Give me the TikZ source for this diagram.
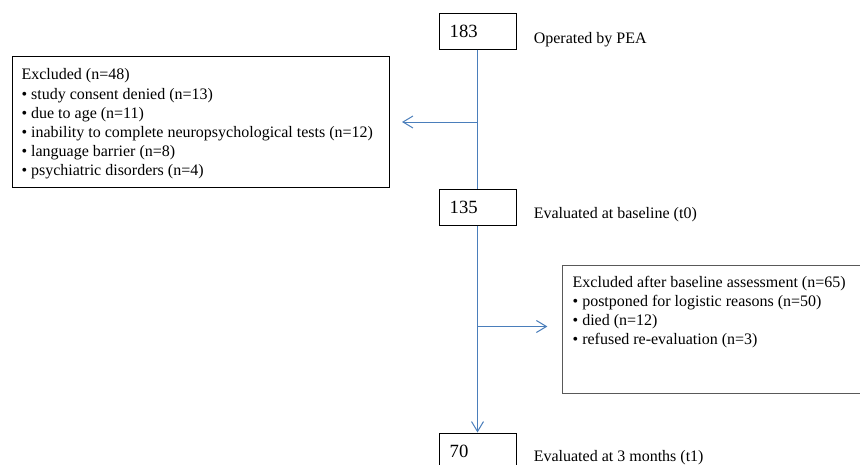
\documentclass[tikz,border=0pt]{standalone}
\usepackage{fontspec}
\setmainfont{Liberation Serif}
\usetikzlibrary{arrows.meta}
\usetikzlibrary{positioning}
\definecolor{flowblue}{RGB}{74,126,187}

\begin{document}
\begin{tikzpicture}[x=0.75pt,y=-0.75pt,
  numbox/.style={draw=black,line width=0.75pt,minimum width=57.75pt,minimum height=27pt,inner xsep=8pt,text width=41.75pt,align=left,font=\fontsize{14}{16}\selectfont},
  caption/.style={inner sep=0pt,font=\fontsize{12}{14.3}\selectfont},
  exbox/.style={draw=black,line width=0.75pt,anchor=north west,inner ysep=0pt,font=\fontsize{12}{14.3}\selectfont},
  flow/.style={draw=flowblue,line width=0.75pt},
  flowarrow/.style={flow,-{Straight Barb[length=7.5pt,width=9pt]}}]
\useasboundingbox (0,0) rectangle (860,464);
\clip (0,0) rectangle (860,464);

% numbers of patients
\node[numbox] (n183) at (477.5,31) {183};
\node[numbox] (n135) at (477.5,207) {135};
\node[numbox] (n70) at (477.5,451) {70};
\node[caption,right=12.75pt of n183,yshift=-6.5pt] (c183) {Operated by PEA};
\node[caption,right=12.75pt of n135,yshift=-5.5pt] (c135) {Evaluated at baseline (t0)};
\node[caption,right=12.75pt of n70,yshift=-4.75pt] (c70) {Evaluated at 3 months (t1)};

% exclusions
\node[exbox,inner xsep=6.75pt] (ex1) at (12,56) {\begin{minipage}[c][98.25pt][t]{269.25pt}\vspace*{9.25pt}Excluded (n=48)\\
• study consent denied (n=13)\\
• due to age (n=11)\\
\mbox{• inability to complete neuropsychological tests (n=12)}\\
• language barrier (n=8)\\
• psychiatric disorders (n=4)\end{minipage}};
\node[exbox,draw=black!65,line width=1pt,inner xsep=7.5pt] (ex2) at (562,265) {\begin{minipage}[c][96pt][t]{300pt}\vspace*{7.75pt}Excluded after baseline assessment (n=65)\\
• postponed for logistic reasons (n=50)\\
• died (n=12)\\
• refused re-evaluation (n=3)\end{minipage}};

% flow
\draw[flow] (n183) -- (n135);
\draw[flowarrow] (n135) -- (n70);
\coordinate (b1) at (n183.south |- ex1.east);
\draw[flowarrow,shorten >=9pt] (b1) -- (ex1.east);
\path (n135.south) ++(0,101) coordinate (b2);
\draw[flowarrow,shorten >=11pt] (b2) -- (b2 -| ex2.west);

\end{tikzpicture}
\end{document}
